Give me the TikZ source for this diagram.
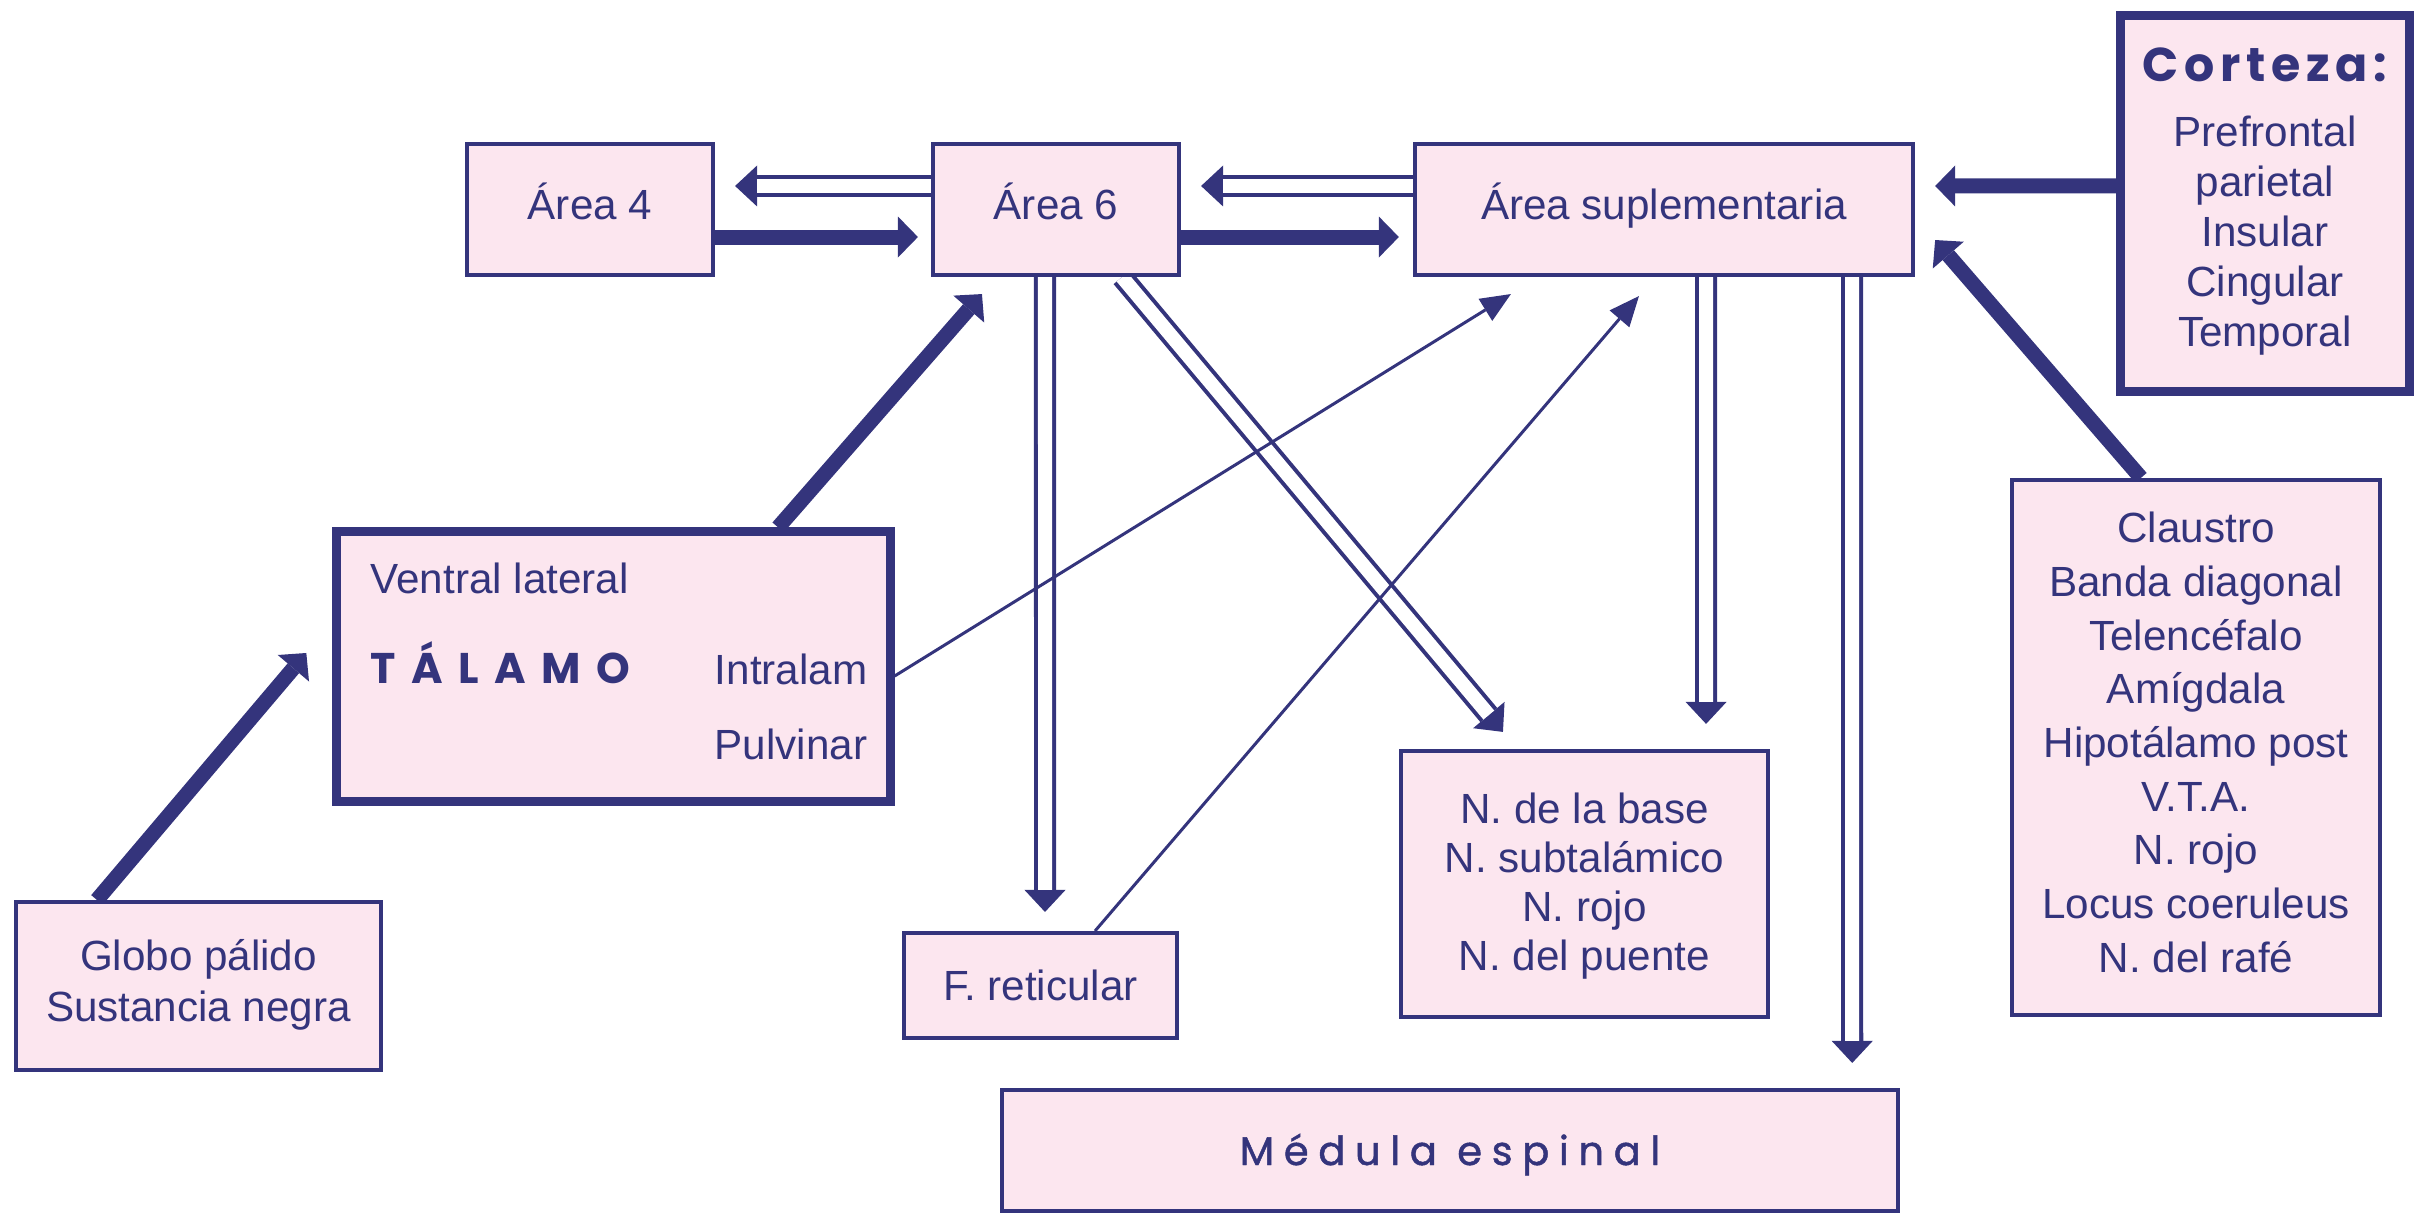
\documentclass[tikz,border=0pt]{standalone}
\usepackage{fontspec}
\setmainfont{Liberation Sans}
\newfontfamily\geo{Poppins}
\usetikzlibrary{arrows.meta,calc}
\pgfdeclarelayer{background}
\pgfsetlayers{background,main}
\definecolor{navy}{RGB}{52,52,124}
\definecolor{pinkf}{RGB}{252,230,239}
\begin{document}
\begin{tikzpicture}[x=0.01cm,y=-0.01cm,
 box/.style={draw=navy, fill=pinkf, line width=0.04cm, rectangle, inner sep=0pt},
 tbox/.style={box, line width=0.09cm},
 txt/.style={text=navy, inner sep=0pt, font=\fontsize{12pt}{14.2pt}\selectfont, align=center},
 thk/.style={draw=navy, line width=0.15cm, -{Triangle[length=0.2cm,width=0.41cm,line width=0pt]}},
 thn/.style={draw=navy, line width=0.03cm, -{Triangle[length=0.3cm,width=0.26cm,line width=0pt]}},
 dbl/.style={draw=navy, line width=0.22cm, -{Triangle[length=0.22cm,width=0.41cm,line width=0pt]},
   postaction={draw=white, line width=0.14cm, -, shorten >=0.22cm}},
]
\useasboundingbox (0,0) rectangle (2435,1215);

% boxes
\node[box, minimum width=2.46cm, minimum height=1.31cm] (a4) at (590,209.5) {};
\node[box, minimum width=2.46cm, minimum height=1.31cm] (a6) at (1056,209.5) {};
\node[box, minimum width=4.98cm, minimum height=1.31cm] (asup) at (1664,209.5) {};
\node[tbox, minimum width=2.88cm, minimum height=3.75cm] (cort) at (2265,203.5) {};
\node[tbox, minimum width=5.53cm, minimum height=2.69cm] (tal) at (613.5,666.5) {};
\node[box, minimum width=3.65cm, minimum height=1.68cm] (globo) at (198.5,986) {};
\node[box, minimum width=2.73cm, minimum height=1.05cm] (fret) at (1040.5,985.5) {};
\node[box, minimum width=3.67cm, minimum height=2.66cm] (nbase) at (1584.5,884) {};
\node[box, minimum width=3.68cm, minimum height=5.35cm] (claus) at (2196,747.5) {};
\node[box, minimum width=8.96cm, minimum height=1.21cm] (med) at (1450,1150.5) {};

% texts (multi-line nodes: base = last line)
\node[txt, anchor=base] (ta4) at (590,219) {Área 4};
\node[txt, anchor=base] (ta6) at (1056,219) {Área 6};
\node[txt, anchor=base] (tasup) at (1664,219) {Área suplementaria};
\node[txt, anchor=base, font=\geo\bfseries\fontsize{13.5pt}{16pt}\selectfont\addfontfeature{LetterSpace=12}] (tcort) at (2265,81) {Corteza:};
\node[txt, anchor=base, font=\fontsize{12pt}{14.2pt}\selectfont] (lcort) at (2265,346) {Prefrontal\\parietal\\Insular\\Cingular\\Temporal};
\node[txt, anchor=base west] (tvl) at (370,593) {Ventral lateral};
\node[txt, anchor=base west, font=\geo\bfseries\fontsize{12.2pt}{14pt}\selectfont\addfontfeature{LetterSpace=36}] (ttal) at (370,683) {TÁLAMO};
\node[txt, anchor=base east] (tintra) at (868,684) {Intralam};
\node[txt, anchor=base east] (tpulv) at (868,759) {Pulvinar};
\node[txt, anchor=base, font=\fontsize{12pt}{14.5pt}\selectfont] (tglobo) at (198.5,1021) {Globo pálido\\Sustancia negra};
\node[txt, anchor=base] (tfret) at (1040.5,1000) {F. reticular};
\node[txt, anchor=base, font=\fontsize{12pt}{13.9pt}\selectfont] (tnbase) at (1584.5,970) {N. de la base\\N. subtalámico\\N. rojo\\N. del puente};
\node[txt, anchor=base, font=\fontsize{12pt}{15.25pt}\selectfont] (tclaus) at (2196,972) {Claustro\\Banda diagonal\\Telencéfalo\\Amígdala\\Hipotálamo post\\V.T.A.\\N. rojo\\Locus coeruleus\\N. del rafé};
\node[txt, anchor=base, font=\geo\fontsize{11.4pt}{14pt}\selectfont\addfontfeature{LetterSpace=24,FakeBold=1.2}] (tmed) at (1450,1165) {Médula espinal};

\begin{pgfonlayer}{background}
% double arrows
\draw[dbl] ([yshift=0.235cm]a6.west) -- ([yshift=0.235cm,xshift=0.2cm]a4.east);
\draw[dbl] ([yshift=0.235cm]asup.west) -- ([yshift=0.235cm,xshift=0.2cm]a6.east);
\draw[dbl] ([xshift=-0.11cm]a6.south) -- ([xshift=0.045cm,yshift=0.19cm]fret.north);
\draw[dbl] ([xshift=0.66cm]a6.south) -- ([xshift=-0.815cm,yshift=0.17cm]nbase.north);
\draw[dbl] ([xshift=0.42cm]asup.south) -- ([xshift=1.215cm,yshift=0.25cm]nbase.north);
\draw[dbl] ([xshift=1.88cm]asup.south) -- ([xshift=4.02cm,yshift=0.25cm]med.north);
% thick arrows
\draw[thk] ([yshift=-0.275cm]a4.east) -- ([yshift=-0.275cm,xshift=-0.13cm]a6.west);
\draw[thk] ([yshift=-0.275cm]a6.east) -- ([yshift=-0.275cm,xshift=-0.14cm]asup.west);
\draw[thk] ([yshift=0.175cm]cort.west) -- ([yshift=0.235cm,xshift=0.2cm]asup.east);
\draw[thk] ([xshift=-0.55cm]claus.north) -- ([yshift=-0.305cm,xshift=0.2cm]asup.east);
\draw[thk] ([xshift=1.645cm]tal.north) -- ([xshift=-0.74cm,yshift=-0.17cm]a6.south);
\draw[thk] ([xshift=-1.015cm]globo.north) -- ([xshift=-0.26cm,yshift=0.135cm]tal.west);
% thin arrows
\draw[thn] ([yshift=-0.095cm]tal.east) -- ([xshift=-1.53cm,yshift=-0.17cm]asup.south);
\draw[thn] ([xshift=0.545cm]fret.north) -- ([xshift=-0.25cm,yshift=-0.19cm]asup.south);
\end{pgfonlayer}
\end{tikzpicture}
\end{document}
